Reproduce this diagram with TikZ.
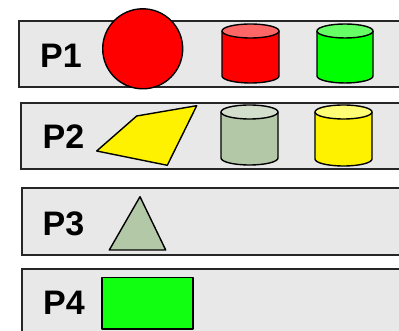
\documentclass[tikz,border=0pt]{standalone}
\usepackage{fontspec}
\setmainfont{Liberation Sans}
\definecolor{bandgray}{HTML}{E8E8E8}
\definecolor{sage}{HTML}{B2C8A6}
\definecolor{sagetop}{HTML}{D3DECD}
\definecolor{redtop}{HTML}{FF6666}
\definecolor{greentop}{HTML}{66FF66}
\definecolor{yellowtop}{HTML}{FFFF77}
\definecolor{brightgreen}{HTML}{11FF11}
\begin{document}
\begin{tikzpicture}[x=1pt,y=1pt,
  band/.style={draw=black!85,line width=1.4pt,fill=bandgray},
  lbl/.style={font=\bfseries\fontsize{34}{34}\selectfont,inner sep=0pt,anchor=center},
  shp/.style={draw=black,line width=1.4pt,line join=round}]
\useasboundingbox (0,0) rectangle (399,331);
\clip (0,0) rectangle (399,331);
% bands
\draw[band] (19,310) rectangle (410,244);
\draw[band] (21,228) rectangle (410,162);
\draw[band] (22,143) rectangle (410,76);
\draw[band] (22,62) rectangle (410,-10);
% labels
\node[lbl] (p1) at (61,275) {P1};
\node[lbl] (p2) at (63.5,194.5) {P2};
\node[lbl] (p3) at (63.5,107.5) {P3};
\node[lbl] (p4) at (64,28) {P4};
% P1 shapes
\draw[shp,fill=red] (142.7,282.2) circle (40);
% red cylinder
\draw[shp,fill=red] (222,300) -- (222,255) arc (180:360:28.5 and 7) -- (279,300);
\draw[shp,fill=redtop] (250.5,300) ellipse (28.5 and 7);
% green cylinder
\draw[shp,fill=green] (317,300) -- (317,255) arc (180:360:28 and 7) -- (373,300);
\draw[shp,fill=greentop] (345,300) ellipse (28 and 7);
% P2 shapes
\draw[shp,fill=yellow] (96.7,180) -- (136.7,215) -- (196.7,225.3) -- (167.3,165.7) -- cycle;
\draw[shp,fill=sage] (221,219) -- (221,173) arc (180:360:28.5 and 7) -- (278,219);
\draw[shp,fill=sagetop] (249.5,219) ellipse (28.5 and 7);
\draw[shp,fill=yellow] (315,219) -- (315,172) arc (180:360:28.5 and 7) -- (372,219);
\draw[shp,fill=yellowtop] (343.5,219) ellipse (28.5 and 7);
% P3 shape
\draw[shp,fill=sage] (140,134.3) -- (109.3,81) -- (165.7,81) -- cycle;
% P4 shape
\draw[shp,fill=brightgreen] (102,2) rectangle (193,53.3);
\end{tikzpicture}
\end{document}
